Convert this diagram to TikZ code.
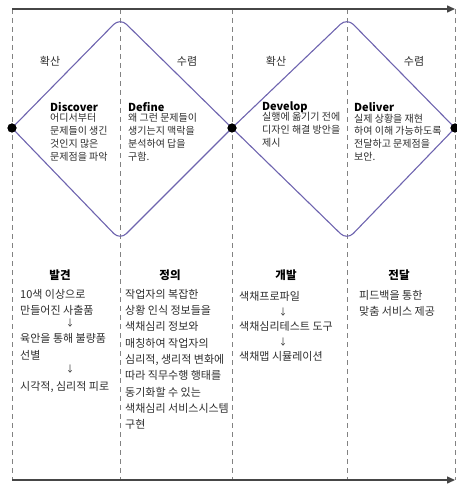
\documentclass[tikz,border=0pt]{standalone}
\usepackage{fontspec}
\setmainfont{Noto Sans CJK KR}
\usepackage{tikz}
\usetikzlibrary{positioning}
\usetikzlibrary{arrows.meta}
\tikzstyle{chart} = [x = 1pt, y = -1pt]
\definecolor{axisColor}{RGB}{70,70,70}
\definecolor{dashColor}{RGB}{130,130,130}
\definecolor{diamondColor}{RGB}{110,100,175}
\definecolor{labelColor}{RGB}{45,45,45}
\tikzstyle{axisStyle} = [color=axisColor, line width=1.5pt, -{Triangle[length=8pt, width=7pt]}]
\tikzstyle{dashStyle} = [color=dashColor, line width=.8pt, dash pattern=on 5pt off 4pt]
\tikzstyle{diamondStyle} = [color=diamondColor, line width=1.1pt, rounded corners = 9pt]
\tikzstyle{dotStyle} = [circle, fill=black, inner sep=0pt, minimum size=9pt]
\tikzstyle{modeText} = [font=\fontsize{11}{13}\selectfont, text=labelColor]
\tikzstyle{phaseTitle} = [font=\fontsize{11}{13}\selectfont\bfseries, anchor=west, inner sep=0pt]
\tikzstyle{phaseText} = [font=\fontsize{10}{12.7}\selectfont, text=labelColor, align=left, inner sep=0pt]
\tikzstyle{columnTitle} = [font=\fontsize{11.5}{13}\selectfont\bfseries, inner sep=0pt]
\tikzstyle{columnText} = [font=\fontsize{11}{16.3}\selectfont, text=labelColor, align=left, anchor=north west, inner sep=0pt]
\tikzstyle{stepArrow} = [font=\fontsize{9}{10}\selectfont, text=labelColor, inner sep=0pt]
\newcommand{\halfDiamond}[3]{\draw [diamondStyle] (#1) -- (#2) -- (#3);}
\newcommand{\phaseDivider}[1]{\draw [dashStyle] (#1, 9) -- (#1, 480);}
\newcommand{\phaseBlock}[4]{
  \node [phaseTitle] (#1Title) at (#2) {#3};
  \node [phaseText, below right=2pt and 0pt of #1Title.base west] (#1Text) {#4};
}

\begin{document}
\begin{tikzpicture}[chart]
\useasboundingbox (0,0) rectangle (456,486);
\foreach \column in {12,120,232,347,455} {\phaseDivider{\column}}
% time axes
\coordinate (topStart) at (12,9); \coordinate (topEnd) at (455,9);
\coordinate (bottomStart) at (12,480); \coordinate (bottomEnd) at (455,480);
\draw [axisStyle] (topStart) -- (topEnd);
\draw [axisStyle] (bottomStart) -- (bottomEnd);
% double diamond
\coordinate (firstTop) at (120,18); \coordinate (firstBottom) at (120,240);
\coordinate (secondTop) at (347,18); \coordinate (secondBottom) at (347,240);
\node [dotStyle] (startDot) at (12,128) {};
\node [dotStyle] (middleDot) at (232,128) {};
\node [dotStyle] (endDot) at (455,128) {};
\halfDiamond{startDot.center}{firstTop}{middleDot.center}\halfDiamond{startDot.center}{firstBottom}{middleDot.center}
\halfDiamond{middleDot.center}{secondTop}{endDot.center}\halfDiamond{middleDot.center}{secondBottom}{endDot.center}
\node [dotStyle] at (startDot) {}; \node [dotStyle] at (middleDot) {}; \node [dotStyle] at (endDot) {};
\node [modeText] (spreadA) at (50,61) {확산}; \node [modeText] (focusA) at (187,61) {수렴};
\node [modeText] (spreadB) at (276,61) {확산}; \node [modeText] (focusB) at (414,61) {수렴};
% phases
\phaseBlock{discover}{50,107}{Discover}{어디서부터\\문제들이 생긴\\것인지 많은\\문제점을 파악}
\phaseBlock{define}{128,107}{Define}{왜 그런 문제들이\\생기는지 맥락을\\분석하여 답을\\구함.}
\phaseBlock{develop}{262,107}{Develop}{실행에 옮기기 전에\\디자인 해결 방안을\\제시}
\phaseBlock{deliver}{354,107}{Deliver}{실제 상황을 재현\\하여 이해 가능하도록\\전달하고 문제점을\\보안.}
% columns
\node [columnTitle] (findTitle) at (60,275) {발견};
\node [columnText] (findStepA) at (20,289) {10색 이상으로\\만들어진 사출품};
\node [stepArrow] (findArrowA) at (70,323) {↓};
\node [columnText] (findStepB) at (20,333.5) {육안을 통해 불량품\\선별};
\node [stepArrow] (findArrowB) at (70,369) {↓};
\node [columnText] (findStepC) at (20,381) {시각적, 심리적 피로};
\node [columnTitle] (defineTitle) at (170,275) {정의};
\node [columnText] (defineSteps) at (125,289) {작업자의 복잡한\\상황 인식 정보들을\\색채심리 정보와\\매칭하여 작업자의\\심리적, 생리적 변화에\\따라 직무수행 행태를\\동기화할 수 있는\\색채심리 서비스시스템\\구현};
\node [columnTitle] (developTitle) at (286,275) {개발};
\node [columnText] (developStepA) at (239,291) {색채프로파일};
\node [stepArrow] (developArrowA) at (283,312) {↓};
\node [columnText] (developStepB) at (239,321) {색채심리테스트 도구};
\node [stepArrow] (developArrowB) at (283,342) {↓};
\node [columnText] (developStepC) at (239,351) {색채맵 시뮬레이션};
\node [columnTitle] (deliverTitle) at (399,275) {전달};
\node [columnText] (deliverSteps) at (359,290) {피드백을 통한\\맞춤 서비스 제공};
\end{tikzpicture}
\end{document}
